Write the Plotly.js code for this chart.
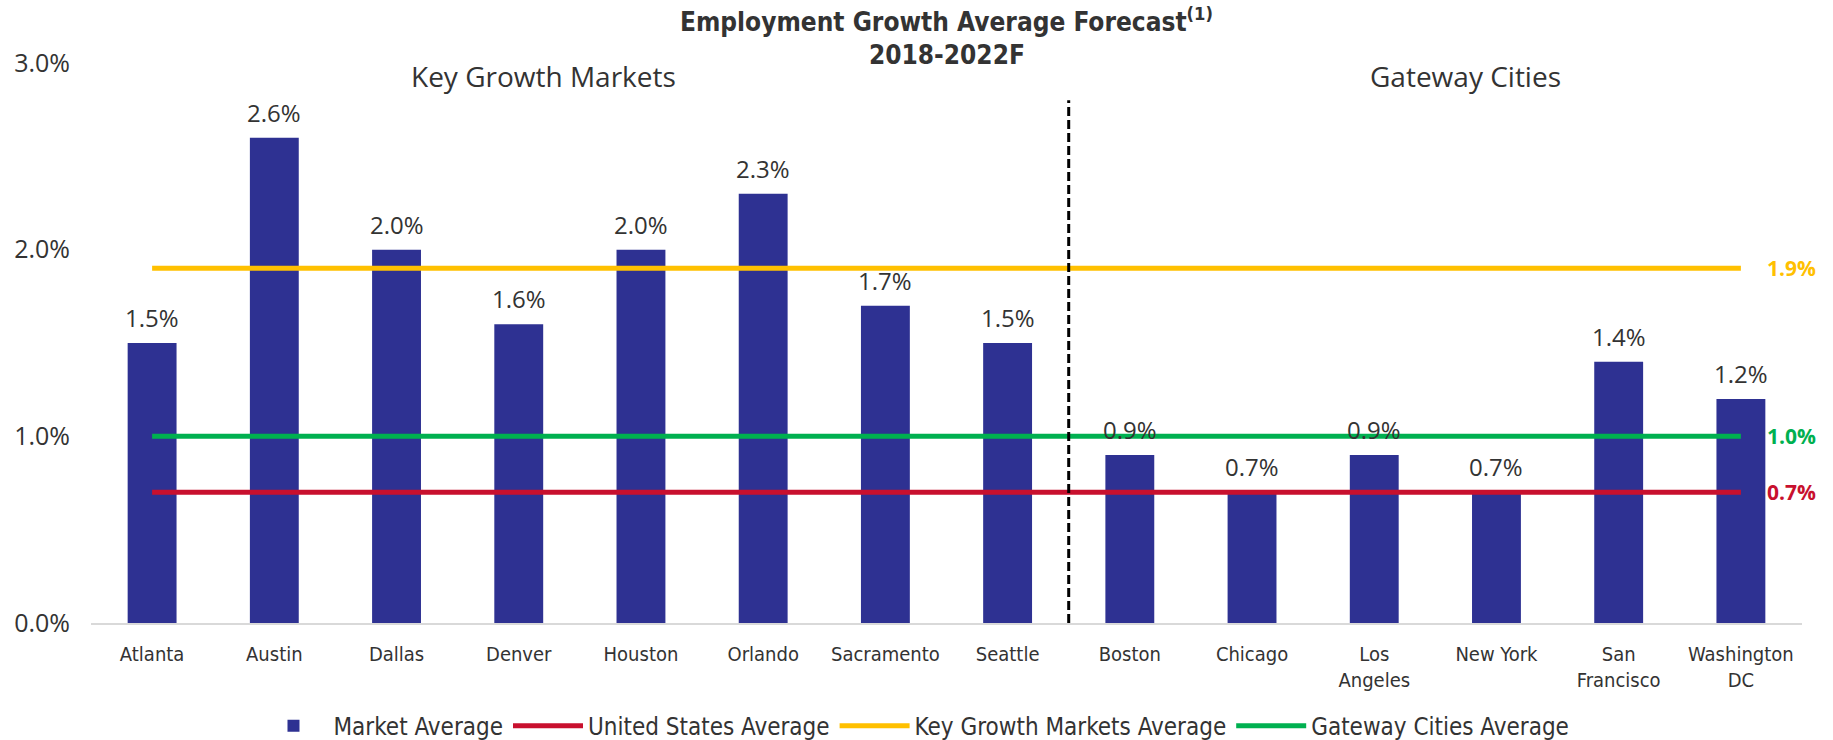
<!DOCTYPE html>
<html>
<head>
<meta charset="utf-8">
<script src="https://cdn.plot.ly/plotly-3.0.1.min.js"></script>
<style>html,body{margin:0;padding:0;background:#fff;}#chart{width:1833px;height:740px;}</style>
</head>
<body>
<div id="chart"></div>
<script>
const categories = ["Atlanta","Austin","Dallas","Denver","Houston","Orlando","Sacramento","Seattle","Boston","Chicago","Los<br>Angeles","New York","San<br>Francisco","Washington<br>DC"];
const marketAverage = [1.5,2.6,2.0,1.6,2.0,2.3,1.7,1.5,0.9,0.7,0.9,0.7,1.4,1.2];
const usAverage = 0.7;
const keyGrowthAverage = 1.9;
const gatewayAverage = 1.0;
const yTickVals = [0,1,2,3];
const yTickText = ["0.0%","1.0%","2.0%","3.0%"];
const groupLabels = ["Key Growth Markets","Gateway Cities"];
const titleLines = ["Employment Growth Average Forecast<sup>(1)</sup>","2018-2022F"];
const dividerIndex = 7.5;

const narrow = "'Liberation Sans Narrow', 'DejaVu Sans Condensed', 'Roboto', sans-serif";
const regular = "'Open Sans', 'Lato', sans-serif";

const first = categories[0], last = categories[categories.length-1];

const traces = [
  {type:'bar', name:'Market Average', x:categories, y:marketAverage,
   marker:{color:'#2E3192'}, width:0.4, hoverinfo:'x+y'},
  {type:'scatter', mode:'lines', name:'United States Average', x:[first,last], y:[usAverage,usAverage],
   line:{color:'#C8102E', width:5}},
  {type:'scatter', mode:'lines', name:'Key Growth Markets Average', x:[first,last], y:[keyGrowthAverage,keyGrowthAverage],
   line:{color:'#FFC000', width:5}},
  {type:'scatter', mode:'lines', name:'Gateway Cities Average', x:[first,last], y:[gatewayAverage,gatewayAverage],
   line:{color:'#00B050', width:5}}
];

const annotations = [];
categories.forEach((c,i)=>{
  annotations.push({x:c, y:marketAverage[i], xref:'x', yref:'y', text:marketAverage[i].toFixed(1)+'%',
    showarrow:false, yanchor:'bottom', yshift:7, font:{family:regular, size:24, color:'#333333'}});
});
[[keyGrowthAverage,'#FFC000'],[gatewayAverage,'#00B050'],[usAverage,'#C8102E']].forEach(([v,col])=>{
  annotations.push({x:last, y:v, xref:'x', yref:'y', text:'<b>'+v.toFixed(1)+'%</b>', showarrow:false,
    xanchor:'left', xshift:24, font:{family:regular, size:21, color:col}});
});
annotations.push({x:3.2, y:2.93, xref:'x', yref:'y', text:groupLabels[0], showarrow:false,
  font:{family:regular, size:28, color:'#333333'}});
annotations.push({x:10.75, y:2.93, xref:'x', yref:'y', text:groupLabels[1], showarrow:false,
  font:{family:regular, size:28, color:'#333333'}});
annotations.push({x:0.5, y:1.077, xref:'paper', yref:'paper', text:'<b>'+titleLines[0]+'</b>', showarrow:false,
  yanchor:'middle', font:{family:narrow, size:26, color:'#333333'}});
annotations.push({x:0.5, y:1.014, xref:'paper', yref:'paper', text:'<b>'+titleLines[1]+'</b>', showarrow:false,
  yanchor:'middle', font:{family:narrow, size:26, color:'#333333'}});

const layout = {
  width:1833, height:740,
  margin:{l:91, r:31, t:63, b:117, autoexpand:false},
  paper_bgcolor:'#ffffff', plot_bgcolor:'#ffffff',
  xaxis:{type:'category', range:[-0.5,13.5], showgrid:false, zeroline:false,
    showline:true, linecolor:'#d9d9d9', linewidth:2, ticks:'', automargin:false, ticklabelstandoff:12,
    tickfont:{family:narrow, size:20, color:'#333333'}},
  yaxis:{range:[0,3], tickvals:yTickVals, ticktext:yTickText, showgrid:false, zeroline:false,
    showline:false, automargin:false, ticklabelstandoff:20, tickfont:{family:regular, size:25, color:'#333333'}},
  shapes:[{type:'line', xref:'x', yref:'y', x0:dividerIndex, x1:dividerIndex, y0:0, y1:2.8,
    line:{color:'#000000', width:3, dash:'9px,4px'}}],
  annotations:annotations,
  showlegend:true,
  legend:{orientation:'h', x:0.481, xanchor:'center', y:-0.184, yanchor:'middle',
    font:{family:narrow, size:24, color:'#333333'}, traceorder:'normal', itemwidth:70},
  bargap:0.6
};

Plotly.newPlot('chart', traces, layout, {displayModeBar:false, staticPlot:true});
</script>
</body>
</html>
